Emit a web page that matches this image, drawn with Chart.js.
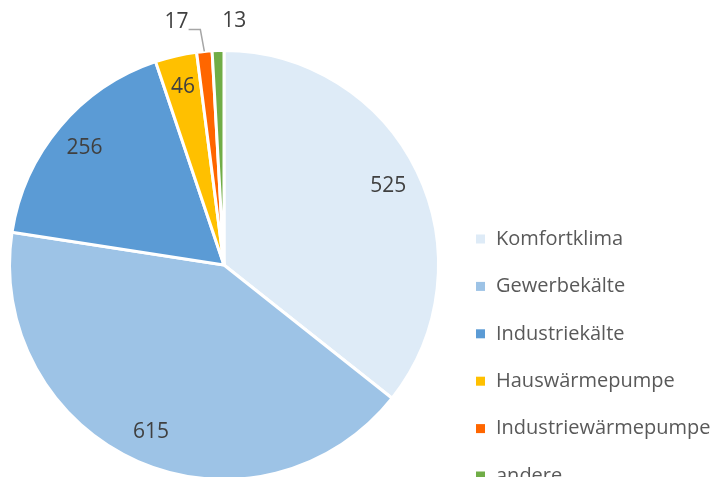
<!DOCTYPE html>
<html>
<head>
<meta charset="utf-8">
<script src="https://cdn.jsdelivr.net/npm/chart.js@4/dist/chart.umd.min.js"></script>
<style>
  html, body { margin: 0; padding: 0; background: #fff; overflow: hidden; }
  #wrap { width: 720px; height: 477px; overflow: hidden; }
</style>
</head>
<body>
<div id="wrap"><canvas id="myChart" width="720" height="494"></canvas></div>
<script>
// categories and values
var categories = ['Komfortklima', 'Gewerbekälte', 'Industriekälte', 'Hauswärmepumpe', 'Industriewärmepumpe', 'andere'];
var values = [525, 615, 256, 46, 17, 13];
var colors = ['#DEEBF7', '#9DC3E6', '#5B9BD5', '#FFC000', '#FF6600', '#70AD47'];

var FONT = '"Open Sans", "Noto Sans", sans-serif';

// value labels: inside for big slices, outside for the tiny ones
var valueLabels = {
    id: 'valueLabels',
    afterDatasetsDraw: function(chart) {
        var ctx = chart.ctx;
        var meta = chart.getDatasetMeta(0);
        var total = values.reduce(function(a, b) { return a + b; }, 0);
        var shifts = [-25, 17];
        var k = 0;
        ctx.save();
        ctx.font = '21px ' + FONT;
        ctx.fillStyle = '#404040';
        ctx.textAlign = 'center';
        ctx.textBaseline = 'middle';
        meta.data.forEach(function(arc, i) {
            var p = arc.getProps(['x', 'y', 'startAngle', 'endAngle', 'outerRadius'], true);
            var mid = (p.startAngle + p.endAngle) / 2;
            var v = values[i];
            if (v / total > 0.02) {
                var r = p.outerRadius * 0.85;
                ctx.fillText(String(v), p.x + Math.cos(mid) * r, p.y + Math.sin(mid) * r);
            } else {
                var ro = p.outerRadius + 30;
                var lx = p.x + Math.cos(mid) * ro + shifts[k];
                var ly = p.y + Math.sin(mid) * ro;
                ctx.fillText(String(v), lx, ly);
                if (k === 0) {
                    // leader line from label to the slice edge
                    var ex = p.x + Math.cos(mid) * p.outerRadius;
                    var ey = p.y + Math.sin(mid) * p.outerRadius;
                    ctx.strokeStyle = '#A6A6A6';
                    ctx.lineWidth = 1.5;
                    ctx.beginPath();
                    ctx.moveTo(lx + 12, ly + 8);
                    ctx.lineTo(ex - 4, ly + 8);
                    ctx.lineTo(ex, ey);
                    ctx.stroke();
                }
                k++;
            }
        });
        ctx.restore();
    }
};

// legend on the right, drawn by hand to get the spacing
var sideLegend = {
    id: 'sideLegend',
    afterDraw: function(chart) {
        var ctx = chart.ctx;
        var x = 476, y = 239, step = 47.4;
        ctx.save();
        ctx.font = '20px ' + FONT;
        ctx.textBaseline = 'middle';
        categories.forEach(function(name, i) {
            var cy = y + i * step;
            ctx.fillStyle = colors[i];
            ctx.fillRect(x, cy - 4.5, 9, 9);
            ctx.fillStyle = '#595959';
            ctx.fillText(name, x + 20, cy);
        });
        ctx.restore();
    }
};

var ctx = document.getElementById('myChart').getContext('2d');
var myChart = new Chart(ctx, {
    type: 'pie',
    data: {
        labels: categories,
        datasets: [{
            data: values,
            backgroundColor: colors,
            borderColor: '#FFFFFF',
            borderWidth: 3
        }]
    },
    options: {
        responsive: false,
        animation: false,
        layout: {
            padding: { left: 8, top: 49, right: 280, bottom: 13 }
        },
        plugins: {
            legend: { display: false },
            tooltip: { enabled: false }
        }
    },
    plugins: [valueLabels, sideLegend]
});
</script>
</body>
</html>
